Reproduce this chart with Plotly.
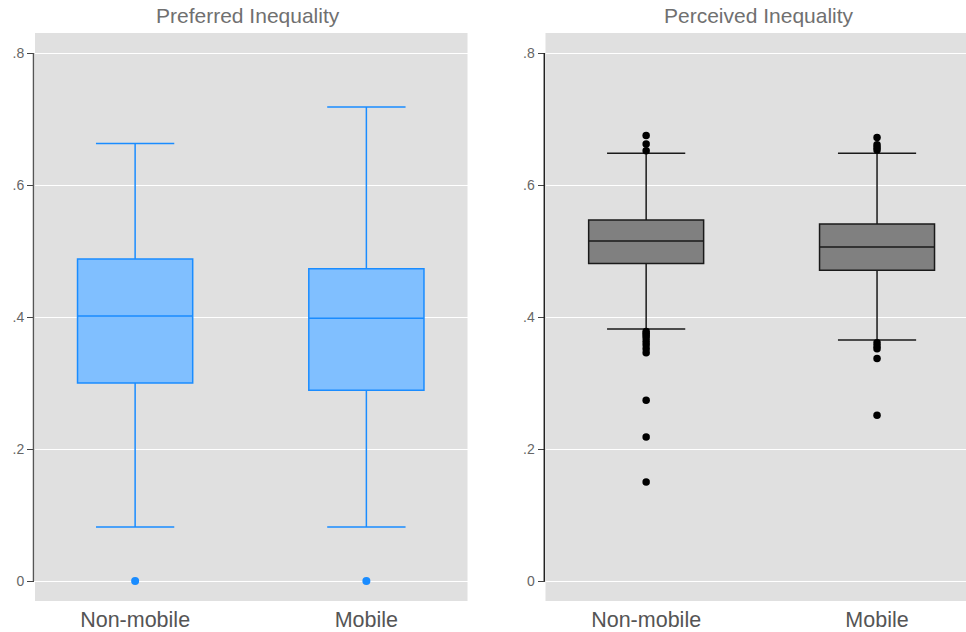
# Box plots: preferred vs perceived inequality by mobility
import plotly.graph_objects as go

# DATA
categories = ['Non-mobile', 'Mobile']
catPos = [0, 1]

# Preferred inequality (box stats)
prefQ1 = [0.300, 0.289]
prefMedian = [0.4015, 0.398]
prefQ3 = [0.488, 0.473]
prefLow = [0.082, 0.082]
prefHigh = [0.663, 0.718]
prefOutNonMobile = [0.0]
prefOutMobile = [0.0]

# Perceived inequality (box stats)
percQ1 = [0.481, 0.471]
percMedian = [0.515, 0.506]
percQ3 = [0.547, 0.541]
percLow = [0.382, 0.365]
percHigh = [0.648, 0.648]
percOutNonMobile = [0.675, 0.662, 0.652, 0.378, 0.375, 0.372, 0.368, 0.363,
                    0.358, 0.352, 0.346, 0.274, 0.218, 0.150]
percOutMobile = [0.672, 0.661, 0.657, 0.653, 0.361, 0.356, 0.352, 0.337, 0.251]

yTicks = [0, 0.2, 0.4, 0.6, 0.8]
yTickText = ['0', '.2', '.4', '.6', '.8']

W, H = 966, 632
bgColor = '#e0e0e0'
fontName = 'Liberation Sans, Arial'

fig = go.Figure()

# left panel
fig.add_trace(go.Box(
    x=catPos, q1=prefQ1, median=prefMedian, q3=prefQ3,
    lowerfence=prefLow, upperfence=prefHigh,
    width=0.498, whiskerwidth=0.68,
    fillcolor='#80bfff', line=dict(color='#1a8cff', width=1.5),
    boxpoints=False, xaxis='x', yaxis='y', showlegend=False))
fig.add_trace(go.Scatter(
    x=[0] * len(prefOutNonMobile) + [1] * len(prefOutMobile),
    y=prefOutNonMobile + prefOutMobile, mode='markers',
    marker=dict(color='#1a8cff', size=8), xaxis='x', yaxis='y', showlegend=False))

# right panel
fig.add_trace(go.Box(
    x=catPos, q1=percQ1, median=percMedian, q3=percQ3,
    lowerfence=percLow, upperfence=percHigh,
    width=0.498, whiskerwidth=0.68,
    fillcolor='#808080', line=dict(color='#1a1a1a', width=1.5),
    boxpoints=False, xaxis='x2', yaxis='y2', showlegend=False))
fig.add_trace(go.Scatter(
    x=[0] * len(percOutNonMobile) + [1] * len(percOutMobile),
    y=percOutNonMobile + percOutMobile, mode='markers',
    marker=dict(color='black', size=7.5), xaxis='x2', yaxis='y2', showlegend=False))

yaxisStyle = dict(
    range=[-0.0303, 0.8303], tickvals=yTicks, ticktext=yTickText,
    showgrid=True, gridcolor='white', gridwidth=1, zeroline=False,
    showline=False, ticks='outside', ticklen=7, tickcolor='#444',
    tickfont=dict(family=fontName, size=14, color='#666'),
    automargin=False, fixedrange=True)
xaxisStyle = dict(
    tickvals=catPos, ticktext=categories, showgrid=False, zeroline=False,
    showline=False, ticks='', ticklabelstandoff=3,
    tickfont=dict(family=fontName, size=21.5, color='#555'),
    automargin=False)

fig.update_layout(
    width=W, height=H,
    margin=dict(l=0, r=0, t=33, b=31),
    paper_bgcolor='white', plot_bgcolor=bgColor,
    xaxis=dict(domain=[35 / W, 467.5 / W], range=[-100 / 231, 1 + 101 / 231], **xaxisStyle),
    xaxis2=dict(domain=[545.5 / W, 1.0], range=[-100.7 / 231, 1 + 89 / 231], **xaxisStyle),
    yaxis=dict(anchor='x', **yaxisStyle),
    yaxis2=dict(anchor='x2', **yaxisStyle),
    shapes=[
        dict(type='line', xref='paper', yref='y', x0=33.5 / W, x1=33.5 / W, y0=0, y1=0.8,
             line=dict(color='#555', width=1.5)),
        dict(type='line', xref='paper', yref='y2', x0=544.3 / W, x1=544.3 / W, y0=0, y1=0.8,
             line=dict(color='#222', width=1.5)),
    ],
    annotations=[
        dict(text='Preferred Inequality', xref='paper', yref='paper', x=248 / W, y=1,
             yshift=18, showarrow=False, xanchor='center', yanchor='middle',
             font=dict(family=fontName, size=21, color='#707070')),
        dict(text='Perceived Inequality', xref='paper', yref='paper', x=759 / W, y=1,
             yshift=18, showarrow=False, xanchor='center', yanchor='middle',
             font=dict(family=fontName, size=21, color='#707070')),
    ],
)

fig.write_html('out.html', config={'displayModeBar': False},
               post_script="document.body.style.margin='0';")
